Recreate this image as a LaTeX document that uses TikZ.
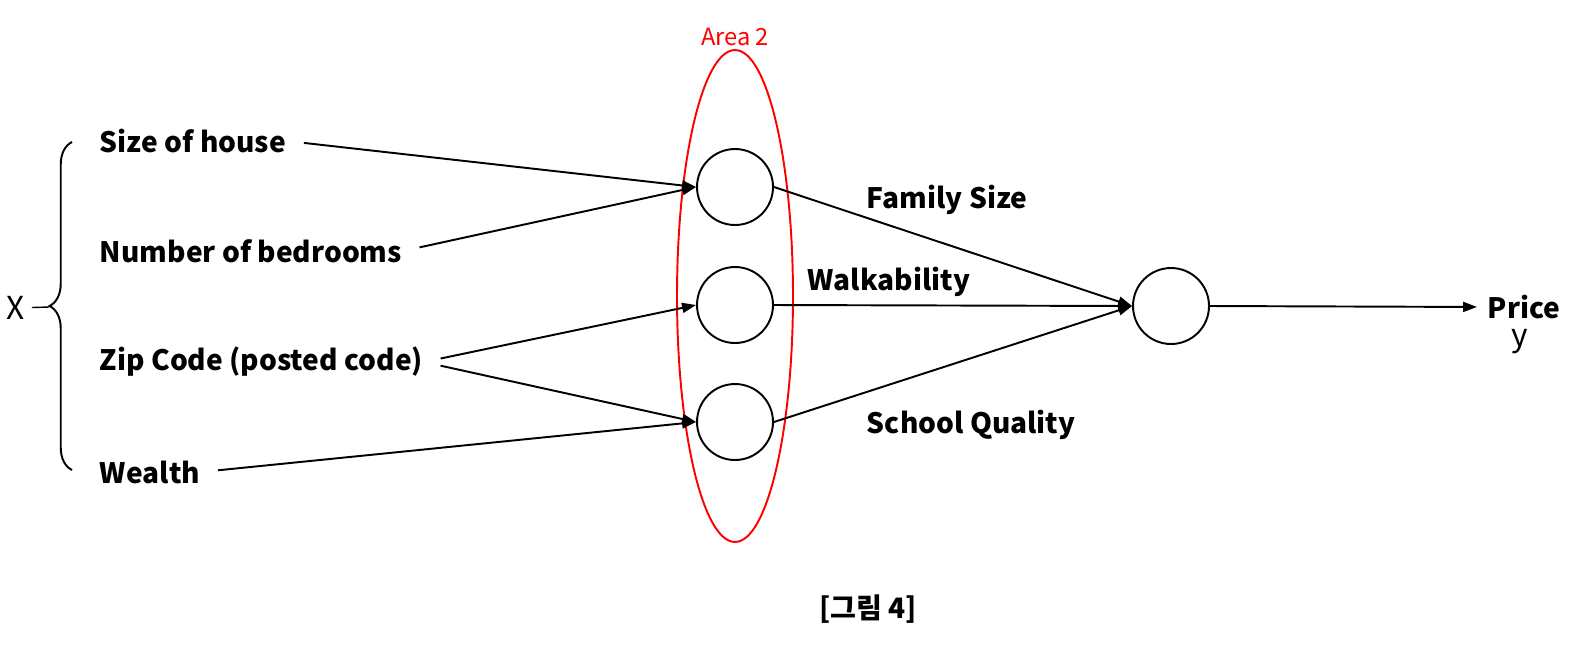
\documentclass[tikz,border=0pt]{standalone}
\usepackage{fontspec}
\setmainfont{Noto Sans CJK KR}
\usetikzlibrary{arrows.meta, shapes.geometric, decorations.pathreplacing}

\begin{document}
\begin{tikzpicture}[x=0.02cm, y=-0.02cm, line width=1.1pt,
    >={Triangle[length=0.28cm, width=0.2cm]},
    feat/.style={anchor=west, inner xsep=0pt, font=\fontsize{16}{19}\selectfont\bfseries},
    unit/.style={circle, draw, minimum size=1.52cm, inner sep=0pt}]
  \useasboundingbox (0,0) rectangle (1581,657);

  % inputs
  \node[feat] (size) at (99,141) {Size of house};
  \node[feat] (bed)  at (99,251) {Number of bedrooms};
  \node[feat] (zip)  at (99,362) {Zip Code (posted code)};
  \node[feat] (wealth) at (99,472) {Wealth};
  \draw[decorate, decoration={brace, amplitude=0.45cm}] (72,470) -- (72,142);
  \node[font=\fontsize{18}{21}\selectfont] (X) at (16,308) {X};
  \coordinate (tip) at (49,307);
  \draw[line width=0.8pt] (X) -- (tip);

  % hidden layer
  \foreach \n/\y in {fam/187, walk/305, school/422}
    \node[unit] (\n) at (735,\y) {};
  \node[ellipse, draw=red, minimum width=2.32cm, minimum height=9.84cm] (area) at (735,296) {};
  \node[red, font=\fontsize{13.5}{16}\selectfont, above=-2pt] at (area.north) {Area 2};

  % output
  \node[unit] (out) at (1171,306) {};
  \node[feat] (price) at (1487,307) {Price};
  \node[font=\fontsize{18}{21}\selectfont] at (1520,342) {y};

  \draw[->, shorten <=0.34cm] (size.east) -- (fam.west);
  \draw[->, shorten <=0.34cm] (bed.east) -- (fam.west);
  \draw[->, shorten <=0.34cm] (zip.east) -- (walk.west);
  \draw[->, shorten <=0.34cm] (zip.east) -- (school.west);
  \draw[->, shorten <=0.34cm] (wealth.east) -- (school.west);
  \foreach \n in {fam, walk, school}
    \draw[->] (\n.east) -- (out.west);
  \draw[->, shorten >=0.2cm] (out.east) -- (price.west);

  \node[feat] at (866,200) {Family Size};
  \node[feat] at (807,282) {Walkability};
  \node[feat] at (866,425) {School Quality};

  \node[font=\fontsize{16}{19}\selectfont\bfseries] (cap) at (868,609) {[그림 4]};
\end{tikzpicture}
\end{document}
